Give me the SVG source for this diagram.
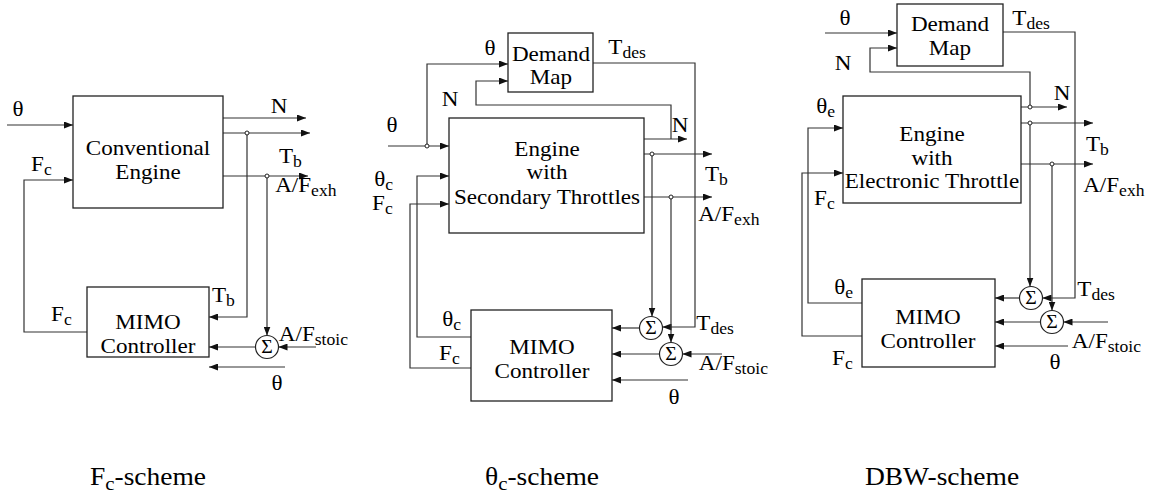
<svg xmlns="http://www.w3.org/2000/svg" width="1170" height="503" viewBox="0 0 1170 503">
<defs>
<marker id="ah" markerUnits="userSpaceOnUse" markerWidth="9" markerHeight="7" refX="9" refY="3.5" orient="auto">
<path d="M0,0 L9,3.5 L0,7 z" fill="#111"/>
</marker>
<style>
text{font-family:"Liberation Serif","Times New Roman",serif;font-size:21px;fill:#000;transform-box:fill-box;transform-origin:center;transform:scaleX(1.1)}
.m{text-anchor:middle}
.sub{font-size:16px}
.cap{font-size:25px}
.csub{font-size:19px}
.sg{font-size:18px;text-anchor:middle}
.box{fill:#fff;stroke:#222;stroke-width:1.3}
.ar{fill:none;stroke:#333;stroke-width:1.2;marker-end:url(#ah)}
.dot{fill:#fff;stroke:#222;stroke-width:1}
.sum{fill:#fff;stroke:#222;stroke-width:1.2}
</style>
</defs>
<rect width="1170" height="503" fill="#fff"/>

<!-- connectors -->
<g id="connectors">
<!-- left -->
<path class="ar" d="M7,125 H73"/>
<path class="ar" d="M87,332 H24 V180 H73"/>
<path class="ar" d="M223,118 H306"/>
<path class="ar" d="M223,133 H310"/>
<path class="ar" d="M247,133 V317 H209"/>
<path class="ar" d="M223,176 H308"/>
<path class="ar" d="M267,176 V335.5"/>
<path class="ar" d="M255.5,347 H209"/>
<path class="ar" d="M316,347 H278.5"/>
<path class="ar" d="M285,367 H209"/>
<!-- middle -->
<path class="ar" d="M427,146 V64 H508"/>
<path class="ar" d="M644,139 H687"/>
<path class="ar" d="M671,139 V105 H476 V81 H508"/>
<path class="ar" d="M593,63 H695 V327 H662.5"/>
<path class="ar" d="M388,146 H449"/>
<path class="ar" d="M471,337 H417 V176 H449"/>
<path class="ar" d="M471,368 H410 V204 H449"/>
<path class="ar" d="M644,154 H712"/>
<path class="ar" d="M644,197 H712"/>
<path class="ar" d="M652,154 V316.5"/>
<path class="ar" d="M671,197 V342.5"/>
<path class="ar" d="M639.5,328 H612"/>
<path class="ar" d="M659.5,354 H612"/>
<path class="ar" d="M722,354 H682.5"/>
<path class="ar" d="M688,380 H612"/>
<!-- right -->
<path class="ar" d="M825,33 H897"/>
<path class="ar" d="M1030,107 V72 H870 V48 H897"/>
<path class="ar" d="M1021,107 H1067"/>
<path class="ar" d="M1003,32 H1075 V298 H1042.5"/>
<path class="ar" d="M862,303 H808 V128 H843"/>
<path class="ar" d="M862,336 H802 V173 H843"/>
<path class="ar" d="M1021,123 H1093"/>
<path class="ar" d="M1021,164 H1093"/>
<path class="ar" d="M1030,123 V286.5"/>
<path class="ar" d="M1052,164 V310.5"/>
<path class="ar" d="M1019.5,298 H995"/>
<path class="ar" d="M1040.5,322 H995"/>
<path class="ar" d="M1108,322 H1063.5"/>
<path class="ar" d="M1068,346 H995"/>
<!-- junction dots -->
<circle class="dot" cx="247" cy="133" r="2"/>
<circle class="dot" cx="267" cy="176" r="2"/>
<circle class="dot" cx="427" cy="146" r="2"/>
<circle class="dot" cx="652" cy="154" r="2"/>
<circle class="dot" cx="671" cy="197" r="2"/>
<circle class="dot" cx="1030" cy="107" r="2"/>
<circle class="dot" cx="1030" cy="123" r="2"/>
<circle class="dot" cx="1052" cy="164" r="2"/>
</g>

<!-- Left: Fc-scheme -->
<g id="conv-engine">
<rect class="box" x="73" y="96" width="150" height="112"/>
<text class="m" x="148" y="155">Conventional</text>
<text class="m" x="148" y="179">Engine</text>
</g>
<g id="mimo-left">
<rect class="box" x="87" y="287" width="122" height="70"/>
<text class="m" x="148" y="329">MIMO</text>
<text class="m" x="148" y="353">Controller</text>
</g>
<g id="sum-left">
<circle class="sum" cx="267" cy="347" r="11.5"/>
<text class="sg" x="267" y="353">Σ</text>
</g>
<g id="labels-left">
<text class="m" x="18" y="116">θ</text>
<text x="32" y="171">F<tspan class="sub" dy="4">c</tspan></text>
<text class="m" x="279" y="113">N</text>
<text x="280" y="163">T<tspan class="sub" dy="4">b</tspan></text>
<text x="278" y="192">A/F<tspan class="sub" dy="4">exh</tspan></text>
<text x="213" y="302">T<tspan class="sub" dy="4">b</tspan></text>
<text x="52" y="321">F<tspan class="sub" dy="4">c</tspan></text>
<text x="282" y="341">A/F<tspan class="sub" dy="4">stoic</tspan></text>
<text class="m" x="277" y="390">θ</text>
</g>

<!-- Middle: theta_c scheme -->
<g id="demand-map-mid">
<rect class="box" x="508" y="33" width="85" height="59"/>
<text class="m" x="551" y="61">Demand</text>
<text class="m" x="551" y="84">Map</text>
</g>
<g id="engine-sec">
<rect class="box" x="449" y="118" width="195" height="115"/>
<text class="m" x="547" y="156">Engine</text>
<text class="m" x="547" y="179">with</text>
<text class="m" x="547" y="204">Secondary Throttles</text>
</g>
<g id="mimo-mid">
<rect class="box" x="471" y="310" width="141" height="91"/>
<text class="m" x="542" y="354">MIMO</text>
<text class="m" x="542" y="378">Controller</text>
</g>
<g id="sum-mid-1">
<circle class="sum" cx="651" cy="328" r="11.5"/>
<text class="sg" x="651" y="334">Σ</text>
</g>
<g id="sum-mid-2">
<circle class="sum" cx="671" cy="354" r="11.5"/>
<text class="sg" x="671" y="360">Σ</text>
</g>
<g id="labels-mid">
<text class="m" x="490" y="55">θ</text>
<text x="610" y="54">T<tspan class="sub" dy="4">des</tspan></text>
<text class="m" x="450" y="106">N</text>
<text class="m" x="680" y="132">N</text>
<text class="m" x="392" y="132">θ</text>
<text x="375" y="186">θ<tspan class="sub" dy="4">c</tspan></text>
<text x="373" y="210">F<tspan class="sub" dy="4">c</tspan></text>
<text x="706" y="181">T<tspan class="sub" dy="4">b</tspan></text>
<text x="701" y="221">A/F<tspan class="sub" dy="4">exh</tspan></text>
<text x="443" y="326">θ<tspan class="sub" dy="4">c</tspan></text>
<text x="440" y="360">F<tspan class="sub" dy="4">c</tspan></text>
<text x="698" y="330">T<tspan class="sub" dy="4">des</tspan></text>
<text x="702" y="370">A/F<tspan class="sub" dy="4">stoic</tspan></text>
<text class="m" x="674" y="404">θ</text>
</g>

<!-- Right: DBW scheme -->
<g id="demand-map-right">
<rect class="box" x="897" y="4" width="106" height="62"/>
<text class="m" x="950" y="31">Demand</text>
<text class="m" x="950" y="55">Map</text>
</g>
<g id="engine-etc">
<rect class="box" x="843" y="96" width="178" height="107"/>
<text class="m" x="932" y="141">Engine</text>
<text class="m" x="932" y="165">with</text>
<text class="m" x="932" y="188">Electronic Throttle</text>
</g>
<g id="mimo-right">
<rect class="box" x="862" y="279" width="133" height="88"/>
<text class="m" x="928" y="324">MIMO</text>
<text class="m" x="928" y="348">Controller</text>
</g>
<g id="sum-right-1">
<circle class="sum" cx="1031" cy="298" r="11.5"/>
<text class="sg" x="1031" y="304">Σ</text>
</g>
<g id="sum-right-2">
<circle class="sum" cx="1052" cy="322" r="11.5"/>
<text class="sg" x="1052" y="328">Σ</text>
</g>
<g id="labels-right">
<text class="m" x="845" y="25">θ</text>
<text x="1014" y="25">T<tspan class="sub" dy="4">des</tspan></text>
<text class="m" x="843" y="70">N</text>
<text class="m" x="1062" y="100">N</text>
<text x="817" y="113">θ<tspan class="sub" dy="4">e</tspan></text>
<text x="1087" y="151">T<tspan class="sub" dy="4">b</tspan></text>
<text x="1086" y="192">A/F<tspan class="sub" dy="4">exh</tspan></text>
<text x="815" y="205">F<tspan class="sub" dy="4">c</tspan></text>
<text x="835" y="294">θ<tspan class="sub" dy="4">e</tspan></text>
<text x="1079" y="296">T<tspan class="sub" dy="4">des</tspan></text>
<text x="1075" y="348">A/F<tspan class="sub" dy="4">stoic</tspan></text>
<text class="m" x="1055" y="369">θ</text>
<text x="833" y="365">F<tspan class="sub" dy="4">c</tspan></text>
</g>

<!-- scheme captions -->
<g id="captions">
<text class="cap m" x="148" y="485">F<tspan class="csub" dy="5">c</tspan><tspan dy="-5">-scheme</tspan></text>
<text class="cap m" x="542" y="485">θ<tspan class="csub" dy="5">c</tspan><tspan dy="-5">-scheme</tspan></text>
<text class="cap m" x="942" y="485">DBW-scheme</text>
</g>
</svg>
